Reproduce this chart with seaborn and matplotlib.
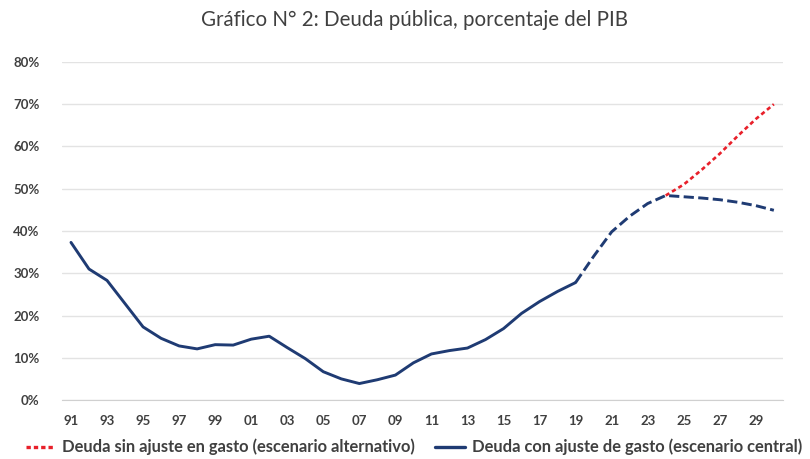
import pandas as pd
import seaborn as sns
import matplotlib
matplotlib.use('Agg')
import matplotlib.pyplot as plt
from matplotlib.ticker import FuncFormatter, MultipleLocator

# Deuda pública, % del PIB
years = list(range(1991, 2031))
debt_central = [37.3, 31.0, 28.3, 22.8, 17.3, 14.6, 12.8, 12.1, 13.1, 13.0,
                14.4, 15.1, 12.4, 9.8, 6.7, 5.0, 3.9, 4.8, 5.9, 8.8,
                10.9, 11.7, 12.3, 14.3, 16.9, 20.5, 23.3, 25.7, 27.8, 34.0,
                39.8, 43.5, 46.5, 48.4, 48.1, 47.8, 47.4, 46.8, 46.0, 44.9]
alt_years = [2024, 2025, 2026, 2027, 2028, 2029, 2030]
debt_alt = [48.4, 51.0, 54.5, 58.3, 62.5, 66.5, 70.0]
last_actual = 2019

title = "Gráfico N° 2: Deuda pública, porcentaje del PIB"
label_alt = "Deuda sin ajuste en gasto (escenario alternativo)"
label_central = "Deuda con ajuste de gasto (escenario central)"

df = pd.DataFrame({"year": years, "debt": [v / 100 for v in debt_central]})
hist = df[df.year <= last_actual]
proj = df[df.year >= last_actual]
alt = pd.DataFrame({"year": alt_years, "debt": [v / 100 for v in debt_alt]})

sns.set_style("white")
plt.rcParams['font.family'] = ['Lato', 'DejaVu Sans']
text_col = "#404040"
blue = "#1F3B73"
red = "#E8202A"

fig = plt.figure(figsize=(8.1, 4.59), dpi=100)
ax = fig.add_axes([0.0765, 0.1285, 0.89, 0.7365])

sns.lineplot(data=hist, x="year", y="debt", ax=ax, color=blue, linewidth=2.1)
sns.lineplot(data=proj, x="year", y="debt", ax=ax, color=blue, linewidth=2.1)
ax.lines[-1].set_dashes([3.5, 1.5])
sns.lineplot(data=alt, x="year", y="debt", ax=ax, color=red, linewidth=1.9)
ax.lines[-1].set_dashes([1.6, 1.2])

ax.set_xlim(1990.5, 2030.5)
ax.set_ylim(0, 0.8)
ax.yaxis.set_major_locator(MultipleLocator(0.1))
ax.yaxis.set_major_formatter(FuncFormatter(lambda v, p: f"{v * 100:.0f}%"))
ax.set_xticks(list(range(1991, 2030, 2)))
ax.set_xticklabels([f"{y % 100:02d}" for y in range(1991, 2030, 2)])
ax.set_xticks(list(range(1991, 2031)), minor=True)
ax.grid(axis="y", color="#E3E3E3", linewidth=1.0)
ax.set_axisbelow(True)
for s in ["top", "right", "left"]:
    ax.spines[s].set_visible(False)
ax.spines["bottom"].set_color("#D0D0D0")
ax.tick_params(axis="x", which="both", length=4, color="#D0D0D0",
               labelsize=9.5, labelcolor=text_col, pad=7)
ax.tick_params(axis="y", length=0, labelsize=9.5, labelcolor=text_col, pad=16)
for t in ax.get_xticklabels() + ax.get_yticklabels():
    t.set_fontweight("bold")
ax.set_xlabel("")
ax.set_ylabel("")

fig.text(0.512, 0.957, title, ha="center", va="center", fontsize=14.8, color=text_col)

handles = [plt.Line2D([], [], color=red, linewidth=2.4, dashes=[1.3, 0.9]),
           plt.Line2D([], [], color=blue, linewidth=2.4)]
leg = fig.legend(handles, [label_alt, label_central], loc="center",
                 bbox_to_anchor=(0.511, 0.026), ncol=2, frameon=False,
                 fontsize=11.9, handlelength=1.8, handletextpad=0.42, columnspacing=1.2,
                 borderpad=0.1)
for t in leg.get_texts():
    t.set_color(text_col)
    t.set_fontweight("bold")

fig.savefig("out.png", dpi=100)
